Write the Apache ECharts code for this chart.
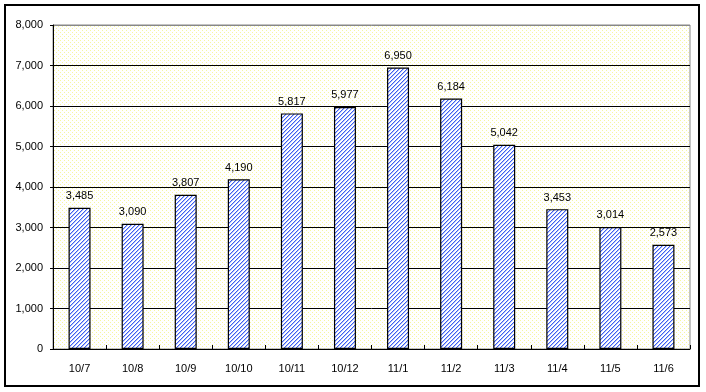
<!DOCTYPE html>
<html><head><meta charset="utf-8">
<script src="https://cdn.jsdelivr.net/npm/echarts@6/dist/echarts.min.js"></script>
<style>html,body{margin:0;padding:0;background:#fff}#c{width:706px;height:392px}</style>
</head><body><div id="c"></div>
<script>
const categories = ['10/7','10/8','10/9','10/10','10/11','10/12','11/1','11/2','11/3','11/4','11/5','11/6'];
const values = [3485,3090,3807,4190,5817,5977,6950,6184,5042,3453,3014,2573];
const yTicks = [0,1000,2000,3000,4000,5000,6000,7000,8000];

function hatch(){
  const c=document.createElement('canvas');c.width=4;c.height=4;
  const g=c.getContext('2d');g.fillStyle='#fff';g.fillRect(0,0,4,4);
  for(let y=0;y<4;y++){
    g.fillStyle='#3d5ef2';g.fillRect((3-y+4)%4,y,1,1);
    g.fillStyle='#b4c2fa';g.fillRect((4-y+4)%4,y,1,1);
  }
  return c;
}
function dots(){
  const c=document.createElement('canvas');c.width=4;c.height=4;
  const g=c.getContext('2d');g.fillStyle='#fff';g.fillRect(0,0,4,4);
  g.fillStyle='#f6f6a0';g.fillRect(0,0,1,1);g.fillRect(2,2,1,1);
  return c;
}
const chart=echarts.init(document.getElementById('c'),null,{renderer:'canvas'});
const font='"Liberation Sans", Arial, sans-serif';
chart.setOption({
  animation:false,
  textStyle:{fontFamily:font},
  grid:{left:53,right:16,top:25,bottom:43,show:true,backgroundColor:{image:dots(),repeat:'repeat'},borderColor:'#888',borderWidth:1},
  graphic:[{type:'rect',shape:{x:5,y:5,width:694,height:381},style:{fill:'none',stroke:'#000',lineWidth:2},z:100}],
  xAxis:{type:'category',data:categories,
    axisLine:{lineStyle:{color:'#000',width:1}},
    axisTick:{show:true,inside:true,length:4,lineStyle:{color:'#000'}},
    axisLabel:{color:'#000',fontSize:11,margin:14,fontFamily:font}},
  yAxis:{type:'value',min:yTicks[0],max:yTicks[yTicks.length-1],interval:1000,
    axisLine:{show:true,lineStyle:{color:'#000'}},
    axisTick:{show:true,length:3,lineStyle:{color:'#000'}},
    axisLabel:{color:'#000',fontSize:11,margin:10,fontFamily:font,formatter:v=>v.toLocaleString('en-US')},
    splitLine:{show:true,lineStyle:{color:['#000','#000','#000','#000','#000','#000','#000','#000','#888'],width:1}}},
  series:[{type:'bar',data:values,barWidth:22,
    itemStyle:{color:{image:hatch(),repeat:'repeat'},borderColor:'#000',borderWidth:1.2},
    label:{show:true,position:'top',distance:6,color:'#000',fontSize:11,fontFamily:font,formatter:p=>p.value.toLocaleString('en-US')}}]
});
</script></body></html>
